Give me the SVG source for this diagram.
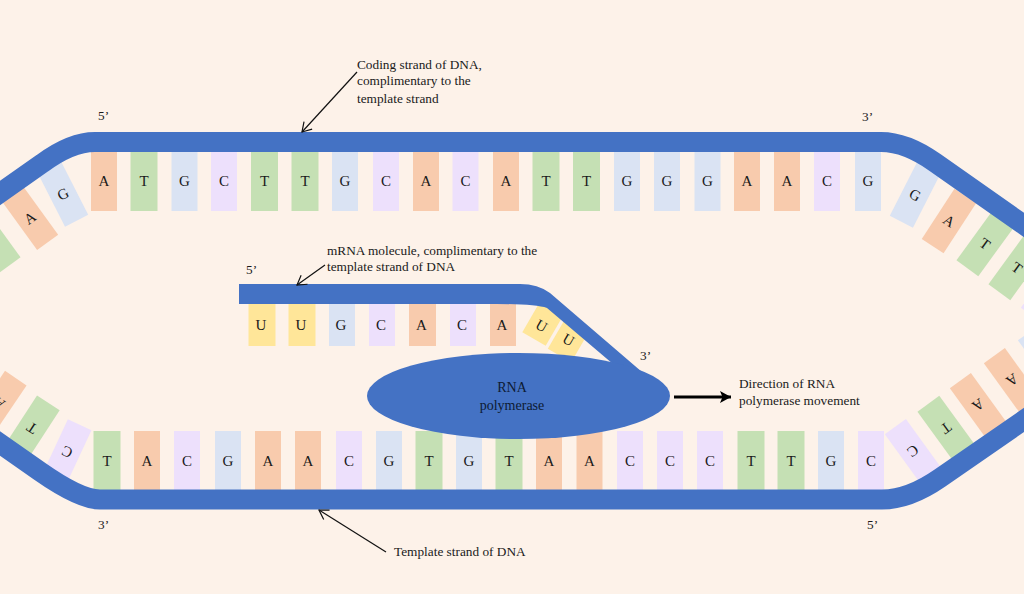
<svg xmlns="http://www.w3.org/2000/svg" width="1024" height="594" viewBox="0 0 1024 594">
<style>
text{font-family:"Liberation Serif","Times New Roman",serif;fill:#1a1a1a}
.l{font-size:13.3px}
.b{font-size:15px;text-anchor:middle}
.a{fill:#F8CBAD}.t{fill:#C5E0B4}.g{fill:#DAE3F3}.c{fill:#EDE0FC}.u{fill:#FFE699}
.strand{fill:none;stroke:#4472C4;stroke-width:20}
.lead{fill:none;stroke:#111;stroke-width:1.2;marker-end:url(#open)}
</style>
<defs>
<marker id="open" markerWidth="14" markerHeight="14" refX="11" refY="7" orient="auto" markerUnits="userSpaceOnUse">
<path d="M2 1.5L11 7L2 12.5" fill="none" stroke="#111" stroke-width="1.2"/>
</marker>
<marker id="solid" markerWidth="14" markerHeight="14" refX="11" refY="7" orient="auto" markerUnits="userSpaceOnUse">
<path d="M0 1L11 7L0 13L2.500 7z" fill="#000"/>
</marker>
<g id="ba"><rect class="a" x="-13" y="-30" width="26" height="60"/><text class="b" y="5">A</text></g>
<g id="bt"><rect class="t" x="-13.500" y="-30" width="27" height="60"/><text class="b" y="5">T</text></g>
<g id="bg"><rect class="g" x="-13" y="-30" width="26" height="60"/><text class="b" y="5">G</text></g>
<g id="bc"><rect class="c" x="-13" y="-30" width="26" height="60"/><text class="b" y="5">C</text></g>
</defs>
<rect width="1024" height="594" fill="#FDF2E9"/>

<g id="coding-bases">
<use href="#bt" transform="translate(-8 241) rotate(-36)"/>
<use href="#ba" transform="translate(30 218) rotate(-36)"/>
<use href="#bg" transform="translate(63 194) rotate(-27)"/>
<use href="#ba" x="104" y="181"/><use href="#bt" x="144" y="181"/><use href="#bg" x="184.500" y="181"/><use href="#bc" x="224" y="181"/>
<use href="#bt" x="264.500" y="181"/><use href="#bt" x="305" y="181"/><use href="#bg" x="345" y="181"/><use href="#bc" x="386" y="181"/>
<use href="#ba" x="426" y="181"/><use href="#bc" x="465.500" y="181"/><use href="#ba" x="506" y="181"/><use href="#bt" x="546" y="181"/>
<use href="#bt" x="586.500" y="181"/><use href="#bg" x="627" y="181"/><use href="#bg" x="667" y="181"/><use href="#bg" x="707.500" y="181"/>
<use href="#ba" x="747" y="181"/><use href="#ba" x="787" y="181"/><use href="#bc" x="827" y="181"/><use href="#bg" x="868" y="181"/>
<use href="#bg" transform="translate(915 195) rotate(27)"/>
<use href="#ba" transform="translate(949 221) rotate(33)"/>
<use href="#bt" transform="translate(985 244) rotate(36)"/>
<use href="#bt" transform="translate(1017 268) rotate(36)"/>
<rect class="c" x="-13" y="-30" width="26" height="60" transform="translate(1049 291) rotate(36)"/>
</g>

<g id="template-bases">
<use href="#ba" transform="translate(-1 403) rotate(214)"/>
<use href="#bt" transform="translate(32 428) rotate(213)"/>
<use href="#bc" transform="translate(67 452) rotate(205)"/>
<use href="#bt" x="107" y="461"/><use href="#ba" x="147" y="461"/><use href="#bc" x="187" y="461"/><use href="#bg" x="228" y="461"/>
<use href="#ba" x="268" y="461"/><use href="#ba" x="308" y="461"/><use href="#bc" x="349" y="461"/><use href="#bg" x="389" y="461"/>
<use href="#bt" x="429" y="461"/><use href="#bg" x="469" y="461"/><use href="#bt" x="509" y="461"/><use href="#ba" x="549" y="461"/>
<use href="#ba" x="589.500" y="461"/><use href="#bc" x="630" y="461"/><use href="#bc" x="670" y="461"/><use href="#bc" x="710" y="461"/>
<use href="#bt" x="751" y="461"/><use href="#bt" x="791" y="461"/><use href="#bg" x="831" y="461"/><use href="#bc" x="871" y="461"/>
<use href="#bc" transform="translate(913 451) rotate(144)"/>
<use href="#bt" transform="translate(946 428) rotate(144)"/>
<use href="#ba" transform="translate(978 405) rotate(144)"/>
<use href="#ba" transform="translate(1012 380) rotate(144)"/>
<rect class="g" x="-13" y="-30" width="26" height="60" transform="translate(1046 357) rotate(144)"/>
</g>

<g id="mrna-bases">
<g transform="translate(262 325)"><rect class="u" x="-13.500" y="-21" width="27" height="42"/><text class="b" x="-1" y="5">U</text></g>
<g transform="translate(302 325)"><rect class="u" x="-13.500" y="-21" width="27" height="42"/><text class="b" x="-1" y="5">U</text></g>
<g transform="translate(342 325)"><rect class="g" x="-13" y="-21" width="26" height="42"/><text class="b" x="-1" y="5">G</text></g>
<g transform="translate(382 325)"><rect class="c" x="-13" y="-21" width="26" height="42"/><text class="b" x="-1" y="5">C</text></g>
<g transform="translate(422.500 325)"><rect class="a" x="-13.500" y="-21" width="27" height="42"/><text class="b" x="-1" y="5">A</text></g>
<g transform="translate(463 325)"><rect class="c" x="-13" y="-21" width="26" height="42"/><text class="b" x="-1" y="5">C</text></g>
<g transform="translate(503 325)"><rect class="a" x="-13" y="-21" width="26" height="42"/><text class="b" x="-1" y="5">A</text></g>
<g transform="translate(541.500 326) rotate(30)"><rect class="u" x="-13.500" y="-20" width="27" height="35"/><text class="b" y="5">U</text></g>
<g transform="translate(568.500 340) rotate(30)"><rect class="u" x="-13.500" y="-20" width="27" height="38"/><text class="b" y="5">U</text></g>
</g>

<g id="connectors">
<path id="coding-strand" class="strand" d="M-10 200L42 163.500Q71 142 95 142H881Q906 142 935 162.500L1034 232"/>
<path id="template-strand" class="strand" d="M-10 436.500L40 471.500Q80 499.500 100 499.500H882Q909 499.500 940 478L1034 413"/>
<path id="mrna-strand" fill="#4472C4" d="M239 284H520Q538 284 550 293L642 372L613 364L547 308Q535 304 497 304H239Z"/>
<path class="lead" d="M357 72L302 132"/>
<path class="lead" d="M386 552L319 510"/>
<path class="lead" d="M325 265L297 285"/>
<path d="M674 397H731" fill="none" stroke="#000" stroke-width="3" marker-end="url(#solid)"/>
</g>

<g id="rna-polymerase">
<ellipse cx="518.500" cy="396" rx="151.500" ry="43" fill="#4472C4"/>
<text x="512" y="392" text-anchor="middle" style="fill:#0d1b33;font-size:14px">RNA</text>
<text x="512" y="410" text-anchor="middle" style="fill:#0d1b33;font-size:14px">polymerase</text>
</g>

<g id="labels">
<text class="l" x="357" y="69">Coding strand of DNA,</text>
<text class="l" x="357" y="85">complimentary to the</text>
<text class="l" x="357" y="103">template strand</text>
<text class="l" x="327" y="255">mRNA molecule, complimentary to the</text>
<text class="l" x="327" y="271">template strand of DNA</text>
<text class="l" x="739" y="388">Direction of RNA</text>
<text class="l" x="739" y="405">polymerase movement</text>
<text class="l" x="394" y="556">Template strand of DNA</text>
<text class="l" x="98" y="120">5’</text>
<text class="l" x="862" y="121">3’</text>
<text class="l" x="246" y="274">5’</text>
<text class="l" x="640" y="360">3’</text>
<text class="l" x="98" y="529">3’</text>
<text class="l" x="867" y="529">5’</text>
</g>
</svg>
